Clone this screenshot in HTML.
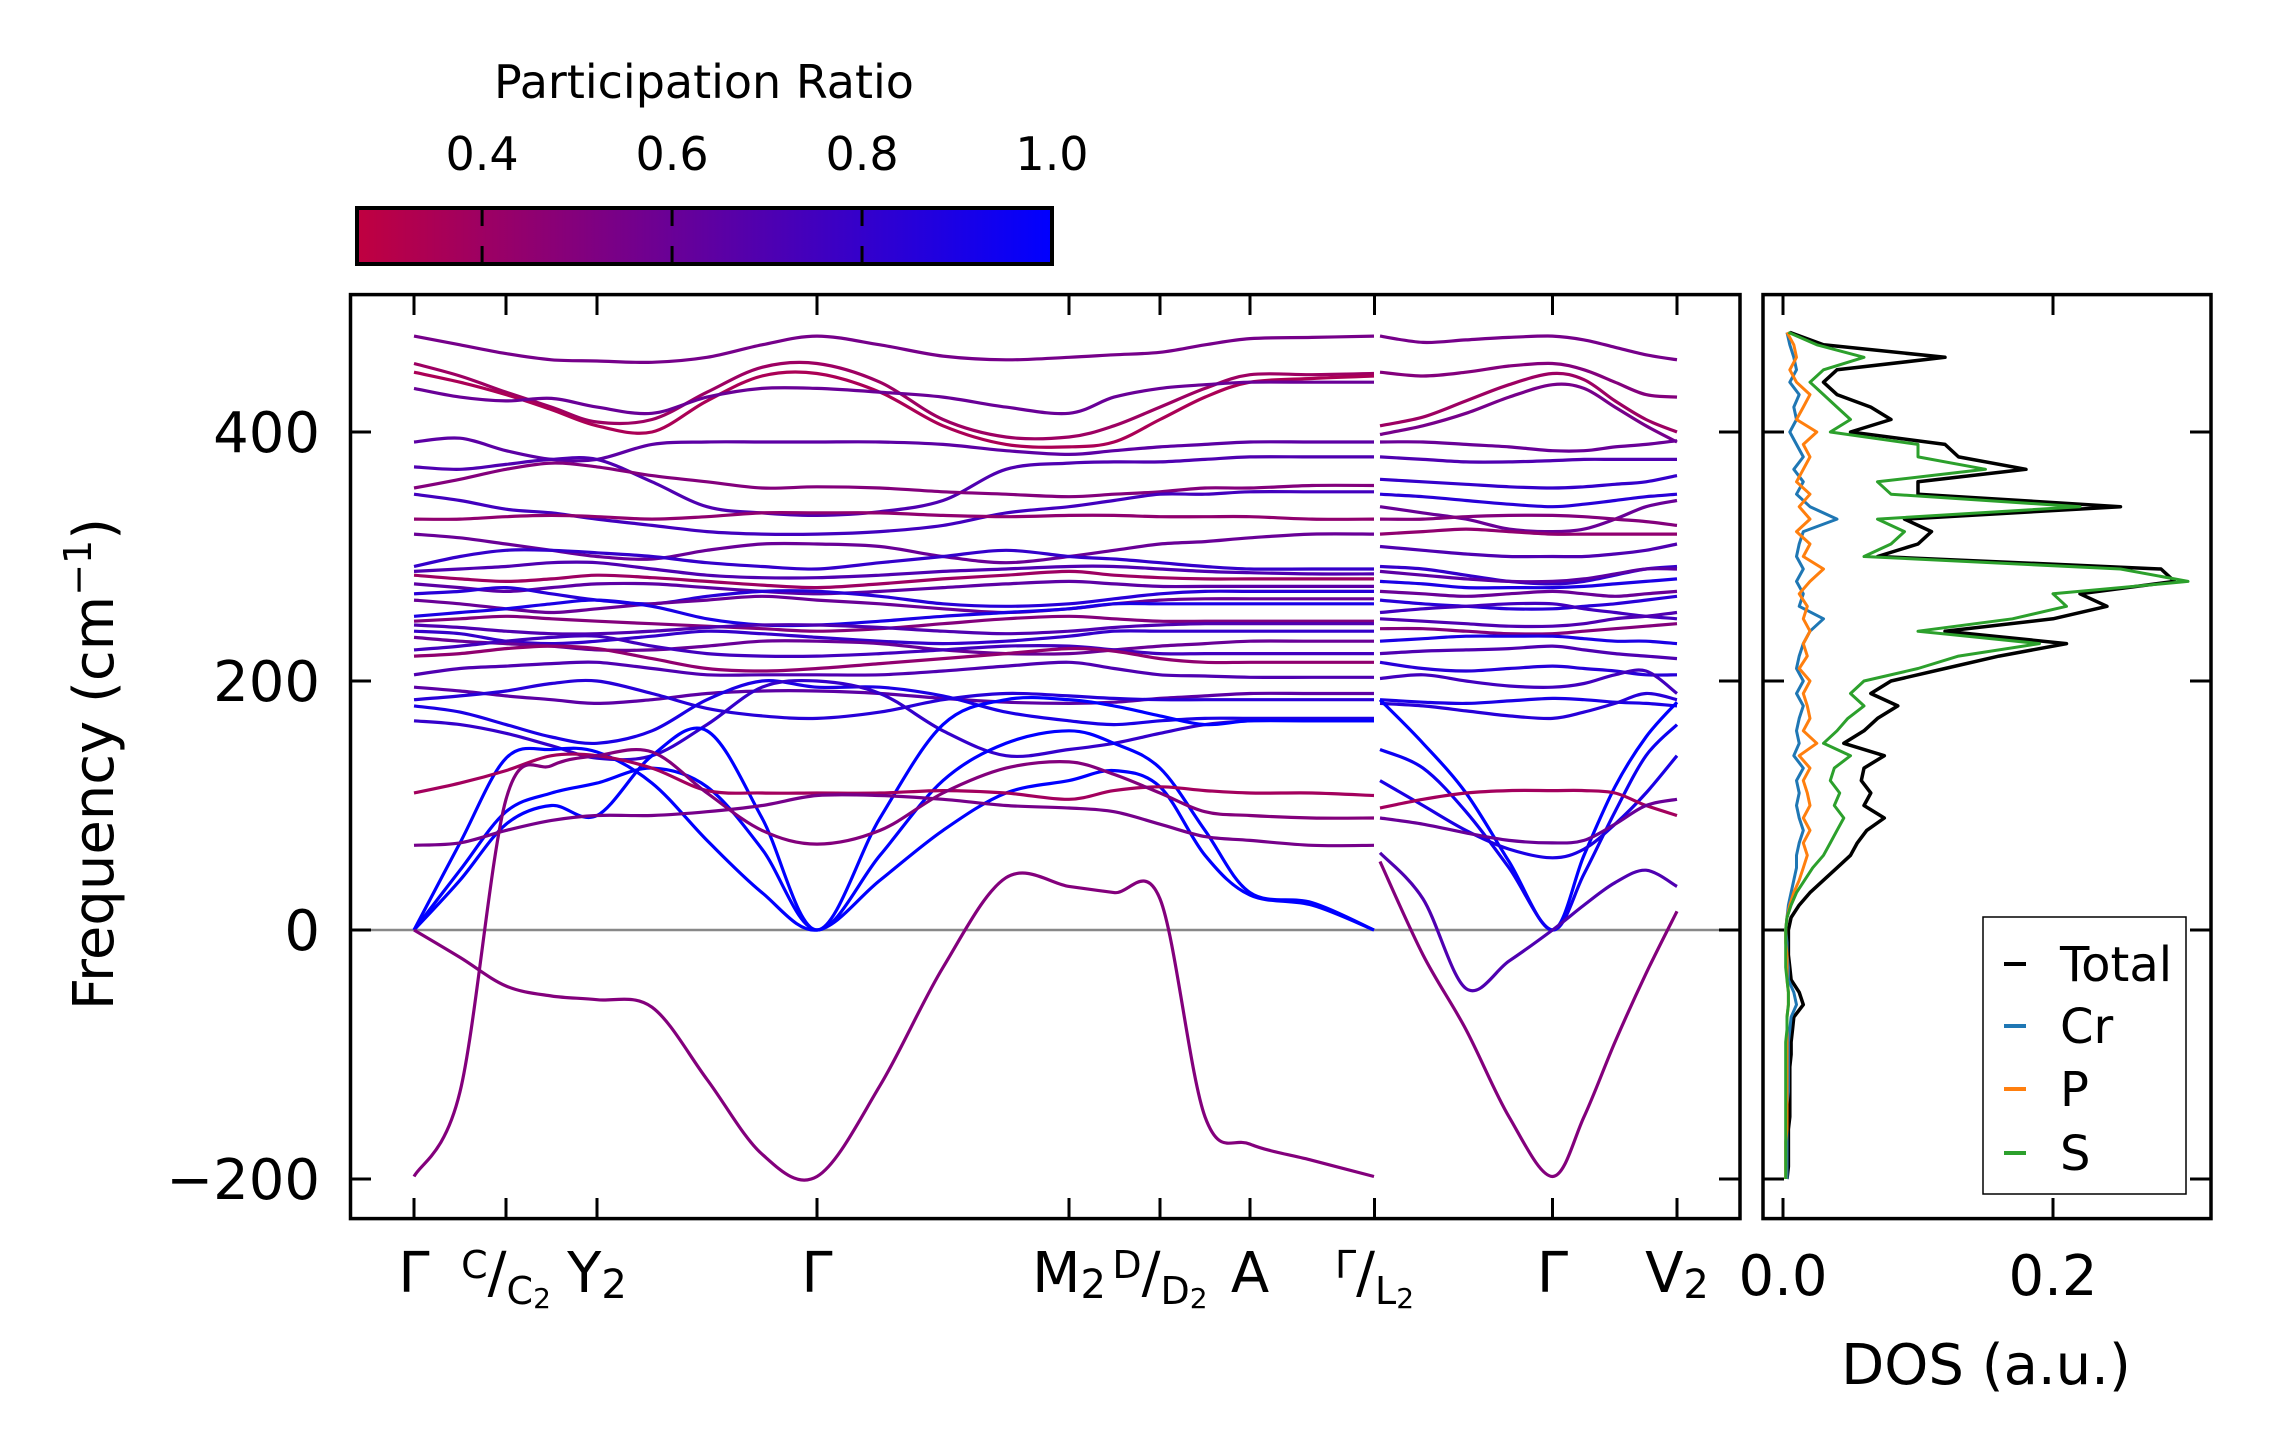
<!DOCTYPE html>
<html><head><meta charset="utf-8"><style>
html,body{margin:0;padding:0;background:#fff;}
svg{display:block;font-family:"DejaVu Sans","Liberation Sans",sans-serif;}
</style></head><body>
<svg id="chart" width="2271" height="1455" viewBox="0 0 2271 1455" xmlns="http://www.w3.org/2000/svg">
<defs>
<linearGradient id="cbgrad" x1="0" x2="1" y1="0" y2="0">
<stop offset="0" stop-color="rgb(192,0,64)"/>
<stop offset="1" stop-color="rgb(0,0,255)"/>
</linearGradient>
<clipPath id="mainclip"><rect x="352" y="296" width="1387" height="921"/></clipPath>
<clipPath id="dosclip"><rect x="1765" y="296" width="445" height="921"/></clipPath>
</defs>
<g id="colorbar">
<text x="704" y="98" font-size="46" text-anchor="middle">Participation Ratio</text>
<rect x="357" y="208" width="695" height="56" fill="url(#cbgrad)" stroke="#000" stroke-width="4"/>
</g>
<g id="bands" clip-path="url(#mainclip)"></g>
<g id="dos" clip-path="url(#dosclip)"></g>
<g id="axes"></g>
<text transform="translate(113,764) rotate(-90)" font-size="56" text-anchor="middle">Frequency (cm<tspan baseline-shift="super" font-size="38">−1</tspan>)</text>
<text x="1986" y="1384" font-size="56" text-anchor="middle">DOS (a.u.)</text>
<g id="legend"></g>
</svg>
<script>
// ---- data ----
const kTickPos = [0, 0.92, 1.83, 4.03, 6.55, 7.46, 8.36, 9.605, 11.385, 12.63];
const kTickLabels = ["Γ", "C/C2", "Y2", "Γ", "M2", "D/D2", "A", "Γ/L2", "Γ", "V2"];
const freqTicks = [-200, 0, 200, 400];
const cbTicks = [0.4, 0.6, 0.8, 1.0];
const dosTicks = [0.0, 0.2];
const kGrid1 = [0,0.46,0.92,1.375,1.83,2.38,2.93,3.48,4.03,4.66,5.29,5.92,6.55,7.0,7.46,7.91,8.36,8.98,9.60];
const kGrid2 = [9.66,10.09,10.52,10.95,11.385,11.70,12.01,12.32,12.63];
const bands1 = [
[477,470,463,458,457,456,460,470,477,470,461,458,460,462,464,470,475,476,477],
[455,445,432,420,408,410,432,452,455,440,410,396,396,405,420,435,446,446,447],
[448,440,430,418,405,400,425,445,447,432,405,390,388,392,410,428,440,443,445],
[435,428,425,427,420,415,428,435,435,432,428,420,415,428,435,438,440,440,440],
[392,395,385,378,378,390,392,392,392,392,390,385,382,385,388,390,392,392,392],
[372,370,374,378,378,360,340,335,333,336,345,370,375,376,376,378,380,380,380],
[355,362,370,375,372,365,360,355,356,355,352,350,348,350,352,355,355,357,357],
[350,345,338,335,330,325,320,318,318,320,325,335,340,345,350,350,352,352,352],
[330,330,332,333,332,330,332,335,335,335,333,332,333,333,332,332,332,330,330],
[318,315,310,305,300,298,305,310,310,308,300,295,300,305,310,312,315,318,318],
[292,300,305,305,303,300,295,292,290,295,300,305,300,298,295,292,290,290,290],
[288,290,292,295,295,290,285,283,283,285,288,290,292,292,290,288,287,286,286],
[285,282,280,282,285,283,280,277,275,278,282,285,288,285,283,282,282,282,282],
[278,275,272,275,278,278,275,272,270,272,275,278,280,278,276,276,276,276,276],
[270,272,275,270,265,262,268,272,272,268,262,260,262,266,270,272,272,272,272],
[265,262,258,255,258,262,265,268,265,262,258,255,258,262,265,266,266,266,266],
[252,255,258,262,265,260,250,245,245,248,252,255,258,262,262,262,262,262,262],
[248,250,252,250,248,246,244,242,240,242,246,250,252,250,248,248,248,248,248],
[245,243,240,238,238,240,243,245,245,243,240,238,240,243,245,246,246,246,246],
[240,238,232,230,232,236,240,238,235,232,230,232,236,240,240,240,240,240,240],
[235,232,230,228,225,225,228,232,232,230,225,222,222,225,228,230,232,232,232],
[225,228,232,235,236,228,222,220,220,222,225,228,228,225,222,222,222,222,222],
[220,222,226,228,226,218,210,208,210,214,218,222,226,224,218,215,215,215,215],
[205,210,212,214,215,210,205,205,205,205,208,212,215,210,205,204,203,203,203],
[195,192,188,185,182,185,190,192,192,190,186,183,182,183,186,188,190,190,190],
[185,188,192,198,200,190,178,172,170,175,185,190,188,186,185,185,185,185,185],
[180,175,165,155,150,160,185,200,195,195,188,175,168,165,168,170,170,170,170],
[168,165,158,148,138,140,165,195,200,190,160,140,145,150,158,165,168,168,168],
[0,70,138,145,143,118,72,30,0,40,80,110,120,128,115,60,28,20,0],
[0,48,95,110,118,130,115,65,0,60,120,150,160,150,130,80,30,22,0],
[0,40,85,100,92,140,160,90,0,90,165,185,185,180,172,165,168,168,168],
[110,118,128,140,140,130,112,110,110,110,112,110,105,112,115,112,110,110,108],
[68,70,80,88,92,92,95,100,108,108,105,100,98,95,85,75,72,68,68],
[0,-22,-45,-53,-56,-62,-120,-180,-198,-125,-30,42,35,30,25,-150,-172,-185,-198],
[-198,-130,105,132,140,143,110,80,69,80,110,130,135,125,110,95,92,90,90]
];
const pr1 = [0.55,0.4,0.35,0.6,0.65,0.7,0.5,0.75,0.45,0.6,0.8,0.7,0.4,0.65,0.85,0.6,0.9,0.5,0.7,0.8,0.6,0.75,0.45,0.7,0.65,0.85,0.9,0.8,1.0,1.0,1.0,0.38,0.55,0.5,0.5];
const bands2 = [
[477,472,474,476,477,474,468,462,458],
[448,445,448,453,455,450,440,430,428],
[405,412,425,438,447,442,425,410,400],
[398,405,415,428,438,435,420,405,392],
[392,392,390,388,385,385,388,390,393],
[380,378,376,376,377,378,378,378,378],
[362,360,358,356,355,356,358,360,365],
[350,348,345,342,340,342,345,348,350],
[340,335,330,322,320,322,330,340,345],
[330,330,332,333,333,332,330,328,325],
[318,320,322,320,318,318,318,318,318],
[308,305,302,300,300,300,302,305,310],
[292,290,285,280,278,280,285,290,292],
[288,285,282,280,280,282,286,290,290],
[280,278,275,275,275,276,278,280,282],
[272,270,268,270,272,270,268,270,272],
[265,262,260,258,258,260,262,265,268],
[255,258,260,262,262,258,255,252,250],
[250,248,246,244,244,246,250,252,255],
[242,242,240,238,238,240,242,244,246],
[232,234,236,236,236,234,232,232,230],
[222,224,225,226,228,225,222,220,218],
[215,210,208,210,212,210,208,205,205],
[202,205,200,196,195,198,205,208,190],
[185,183,182,184,186,185,183,182,180],
[182,180,176,172,170,175,182,190,185],
[185,150,110,55,0,60,115,155,183],
[145,130,95,50,0,45,95,140,165],
[120,100,80,65,58,65,85,110,140],
[98,105,110,112,112,112,110,100,92],
[90,85,78,72,70,72,85,100,105],
[62,25,-47,-25,0,20,38,48,35],
[55,-20,-80,-150,-198,-150,-90,-35,15]
];
const pr2 = [0.55,0.5,0.4,0.55,0.6,0.7,0.8,0.85,0.6,0.5,0.45,0.7,0.8,0.65,0.9,0.6,0.85,0.75,0.7,0.5,0.9,0.7,0.85,0.75,0.9,0.85,1.0,0.95,0.9,0.38,0.6,0.7,0.5];
const dosFreq = [];
for (let f = -200; f <= 480; f += 10) dosFreq.push(f);
const dosTotal = [0.003,0.004,0.004,0.004,0.004,0.005,0.005,0.005,0.005,0.005,0.006,0.006,0.007,0.008,0.015,0.012,0.006,0.005,0.004,0.004,
0.004,0.006,0.012,0.02,0.03,0.04,0.05,0.055,0.062,0.075,0.06,0.065,0.058,0.06,0.075,0.045,0.06,0.07,0.085,0.065,0.08,0.12,0.16,0.21,0.12,0.2,0.24,0.22,0.29,0.28,0.07,0.1,0.11,0.09,0.25,0.1,0.1,0.18,0.13,0.12,0.05,0.08,0.065,0.04,0.03,0.04,0.12,0.03,0.005];
const dosCr = [0.003,0.003,0.003,0.003,0.003,0.003,0.003,0.004,0.004,0.004,0.004,0.004,0.005,0.006,0.01,0.008,0.004,0.004,0.003,0.003,
0.002,0.003,0.004,0.006,0.008,0.01,0.01,0.012,0.015,0.012,0.01,0.012,0.01,0.015,0.008,0.012,0.01,0.012,0.015,0.01,0.015,0.01,0.012,0.015,0.02,0.03,0.012,0.015,0.01,0.015,0.01,0.012,0.015,0.04,0.02,0.01,0.015,0.008,0.015,0.01,0.005,0.01,0.008,0.012,0.005,0.01,0.008,0.005,0.003];
const dosP = [0.002,0.002,0.002,0.002,0.003,0.003,0.003,0.003,0.003,0.003,0.003,0.003,0.003,0.003,0.004,0.004,0.003,0.003,0.003,0.002,
0.002,0.003,0.005,0.008,0.012,0.015,0.018,0.015,0.02,0.015,0.02,0.018,0.015,0.02,0.012,0.025,0.015,0.02,0.018,0.015,0.02,0.012,0.018,0.015,0.02,0.015,0.018,0.012,0.02,0.03,0.015,0.02,0.01,0.02,0.012,0.02,0.01,0.015,0.02,0.015,0.025,0.01,0.015,0.02,0.01,0.005,0.01,0.008,0.003];
const dosS = [0.002,0.002,0.002,0.002,0.002,0.002,0.002,0.002,0.002,0.002,0.002,0.002,0.003,0.003,0.004,0.004,0.003,0.002,0.002,0.002,
0.002,0.003,0.006,0.01,0.016,0.022,0.03,0.035,0.04,0.045,0.038,0.042,0.035,0.038,0.05,0.03,0.04,0.048,0.06,0.05,0.06,0.1,0.13,0.19,0.1,0.17,0.21,0.2,0.3,0.25,0.06,0.08,0.09,0.07,0.22,0.08,0.07,0.15,0.1,0.1,0.035,0.05,0.04,0.03,0.02,0.03,0.06,0.025,0.004];
const legendLabels = ["Total","Cr","P","S"];

// ---- scales ----
const NS = "http://www.w3.org/2000/svg";
function xK(k){ return 414 + k*100; }
function yF(f){ return 930 - f*1.245; }
function xD(d){ return 1783 + d*1350; }
function xCB(v){ return 357 + (v-0.2683)/(1-0.2683)*695; }
function prColor(p){ const t=Math.max(0,Math.min(1,(p-0.2683)/(1-0.2683))); return `rgb(${Math.round(192*(1-t))},0,${Math.round(64+191*t)})`; }
function mk(tag, attrs, parent){ const e=document.createElementNS(NS,tag); for(const a in attrs) e.setAttribute(a, attrs[a]); parent.appendChild(e); return e; }
function smoothPath(pts){
  let d=`M${pts[0][0].toFixed(1)},${pts[0][1].toFixed(1)}`;
  for(let i=0;i<pts.length-1;i++){
    const p0=pts[i-1]||pts[i], p1=pts[i], p2=pts[i+1], p3=pts[i+2]||pts[i+1];
    const c1=[p1[0]+(p2[0]-p0[0])/6, p1[1]+(p2[1]-p0[1])/6];
    const c2=[p2[0]-(p3[0]-p1[0])/6, p2[1]-(p3[1]-p1[1])/6];
    d+=` C${c1[0].toFixed(1)},${c1[1].toFixed(1)} ${c2[0].toFixed(1)},${c2[1].toFixed(1)} ${p2[0].toFixed(1)},${p2[1].toFixed(1)}`;
  }
  return d;
}
const bandsG = document.getElementById('bands');
const axesG = document.getElementById('axes');
const dosG = document.getElementById('dos');
const legG = document.getElementById('legend');
const cbG = document.getElementById('colorbar');

// zero line
const zl = mk('line',{x1:352,x2:1739,y1:yF(0),y2:yF(0),stroke:'#888',"stroke-width":2.5},bandsG);



function drawBands(grid, bands, prs, seg){
  bands.forEach((b,i)=>{
    const pts=b.map((f,j)=>[xK(grid[j]), yF(f)]);
    const p=mk('path',{d:smoothPath(pts),fill:'none',stroke:prColor(prs[i]),"stroke-width":3.2,"stroke-linejoin":"round"},bandsG);
    
    
  });
}
drawBands(kGrid1, bands1, pr1, 'seg1');
drawBands(kGrid2, bands2, pr2, 'seg2');

// DOS
const dosSeries=[[dosTotal,'#000000','dos-total'],[dosCr,'#1f77b4','dos-cr'],[dosP,'#ff7f0e','dos-p'],[dosS,'#2ca02c','dos-s']];
dosSeries.forEach(([arr,col,name])=>{
  const d=arr.map((v,i)=>(i?'L':'M')+xD(v).toFixed(1)+','+yF(dosFreq[i]).toFixed(1)).join(' ');
  const p=mk('path',{d:d,fill:'none',stroke:col,"stroke-width":name==='dos-total'?3.5:3,"stroke-linejoin":"round"},dosG);
  
  
});

// axes frames
const f1=mk('rect',{x:350.5,y:294.6,width:1389.5,height:924,fill:'none',stroke:'#000',"stroke-width":3.5},axesG);


const f2=mk('rect',{x:1763,y:294.6,width:448,height:924,fill:'none',stroke:'#000',"stroke-width":3.5},axesG);



// y ticks
freqTicks.forEach(f=>{
  const y=yF(f);
  [[350.5,371],[1740,1719],[1763,1784],[2211,2190]].forEach(([a,b])=>{
    const t=mk('line',{x1:a,x2:b,y1:y,y2:y,stroke:'#000',"stroke-width":3},axesG);
    
    
  });
  const lbl=mk('text',{x:320,y:y+20,"font-size":56,"text-anchor":"end"},axesG);
  lbl.textContent=(f<0?'−':'')+Math.abs(f);
  
  
});
// k ticks
kTickPos.forEach((k,i)=>{
  const x=xK(k);
  [[1218.5,1198],[294.6,315]].forEach(([a,b])=>{
    const t=mk('line',{x1:x,x2:x,y1:a,y2:b,stroke:'#000',"stroke-width":3},axesG);
    
    
  });
  const lab=kTickLabels[i];
  const tx=mk('text',{x:x,y:1292,"font-size":56,"text-anchor":"middle"},axesG);
  
  
  if(lab.includes('/')){
    const [a,b]=lab.split('/');
    const s1=mk('tspan',{"font-size":38,dy:-14},tx); s1.textContent=a;
    const s2=mk('tspan',{"font-size":56,dy:14},tx); s2.textContent='/';
    const s3=mk('tspan',{"font-size":38,dy:12},tx); s3.textContent=b.replace('2','');
    const s4=mk('tspan',{"font-size":28,dy:4},tx); s4.textContent='2';
  } else if(lab.endsWith('2')){
    const s1=mk('tspan',{},tx); s1.textContent=lab.slice(0,-1);
    const s2=mk('tspan',{"font-size":40,dy:6},tx); s2.textContent='2';
  } else tx.textContent=lab;
});
// DOS x ticks
dosTicks.forEach(v=>{
  const x=xD(v);
  [[1218.5,1198],[294.6,315]].forEach(([a,b])=>{
    const t=mk('line',{x1:x,x2:x,y1:a,y2:b,stroke:'#000',"stroke-width":3},axesG);
    
    
  });
  const l=mk('text',{x:x,y:1295,"font-size":56,"text-anchor":"middle"},axesG);
  l.textContent=v.toFixed(1);
  
  
});
// colorbar ticks
cbTicks.forEach(v=>{
  const x=xCB(v);
  if(v<1){
    [[208,226],[264,246]].forEach(([a,b])=>{
      const t=mk('line',{x1:x,x2:x,y1:a,y2:b,stroke:'#000',"stroke-width":3},cbG);
      
      
    });
  }
  const l=mk('text',{x:x,y:170,"font-size":46,"text-anchor":"middle"},cbG);
  l.textContent=v.toFixed(1);
  
  
});
// legend
const lb=mk('rect',{x:1983,y:917,width:203,height:277,fill:'#fff',stroke:'#000',"stroke-width":1.5},legG);


const legY=[964,1026,1089,1153];
legendLabels.forEach((name,i)=>{
  const col=dosSeries[i][1];
  const ln=mk('line',{x1:2004,x2:2026,y1:legY[i],y2:legY[i],stroke:col,"stroke-width":4},legG);
  
  
  const t=mk('text',{x:2060,y:legY[i]+17,"font-size":48},legG);
  t.textContent=name;
  
  
});
</script>
</body></html>
